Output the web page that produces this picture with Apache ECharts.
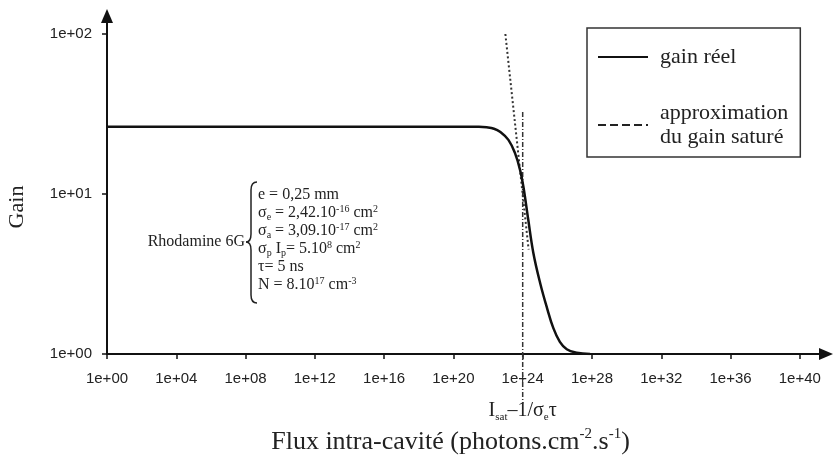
<!DOCTYPE html>
<html><head><meta charset="utf-8">
<script src="https://cdn.jsdelivr.net/npm/echarts@6/dist/echarts.min.js"></script>
<style>html,body{margin:0;padding:0;background:#fff;} #c{width:834px;height:455px;}</style>
</head><body><div id="c"></div>
<script>
// ---- data ----
const fluxReal = [1, 1e10, 1e20, 3e21, 8.3e21, 2.2e22, 4.9e22, 1.5e23, 3.6e23, 7.1e23, 1.1e24, 2.1e24, 4.1e24, 1e25, 2.5e25, 5.9e25, 1.4e26, 3.5e26, 1.3e27, 7.8e27];
const gainReal = [26.3, 26.3, 26.3, 26.3, 26.1, 25.6, 24.5, 21.8, 18.0, 14.1, 11.1, 6.9, 4.3, 2.8, 1.95, 1.45, 1.19, 1.07, 1.02, 1.0];
const fluxApprox = [1e23, 2.2e24];
const gainApprox = [100, 4.5];
const fluxSat = [1e24, 1e24];
const gainSat = [32.6, 0.49];
const xTickValues = [1, 1e4, 1e8, 1e12, 1e16, 1e20, 1e24, 1e28, 1e32, 1e36, 1e40];
const xTickLabels = ['1e+00','1e+04','1e+08','1e+12','1e+16','1e+20','1e+24','1e+28','1e+32','1e+36','1e+40'];
const yTickValues = [1, 10, 100];
const yTickLabels = ['1e+00','1e+01','1e+02'];
const seriesNames = ['gain réel', 'approximation\ndu gain saturé', 'Isat'];
const paramLines = [
  'e = 0,25 mm',
  'σ{sub|e} = 2,42.10{sup|-16} cm{sup|2}',
  'σ{sub|a} = 3,09.10{sup|-17} cm{sup|2}',
  'σ{sub|p} I{sub|p}= 5.10{sup|8} cm{sup|2}',
  'τ= 5 ns',
  'N = 8.10{sup|17} cm{sup|-3}'
];

const serif = 'Liberation Serif';
const sans = 'Liberation Sans';
function labelFor(values, labels) {
  return function (v) {
    const lv = Math.log10(v);
    const i = values.findIndex(t => Math.abs(Math.log10(t) - lv) < 1e-6);
    return i >= 0 ? labels[i] : '';
  };
}
const pairs = (xs, ys) => xs.map((x, i) => [x, ys[i]]);
const braceStyle = {stroke: '#222', lineWidth: 1.5, fill: null};

const chart = echarts.init(document.getElementById('c'));
const option = {
  animation: false,
  backgroundColor: '#fff',
  grid: {left: 107, right: 8, top: 16, bottom: 101, containLabel: false, outerBoundsMode: 'none'},
  xAxis: {
    type: 'log', logBase: 10, min: 1, max: 3.25e41, interval: 4,
    splitLine: {show: false},
    axisLine: {lineStyle: {color: '#111', width: 2}, symbol: ['none', 'triangle'], symbolSize: [12, 14]},
    axisTick: {show: true, length: 5, lineStyle: {color: '#111', width: 1.5}},
    axisLabel: {fontFamily: sans, fontSize: 15, color: '#222', margin: 17, formatter: labelFor(xTickValues, xTickLabels), showMaxLabel: false},
    name: 'Flux intra-cavité (photons.cm{sup|-2}.s{sup|-1})',
    nameLocation: 'middle', nameGap: 73,
    nameTextStyle: {fontFamily: serif, fontSize: 26, color: '#222', lineHeight: 30, padding: [0, 32, 0, 0],
      rich: {sup: {fontFamily: serif, fontSize: 15, color: '#222', verticalAlign: 'top', lineHeight: 30}}}
  },
  yAxis: {
    type: 'log', logBase: 10, min: 1, max: 129.6, interval: 1,
    splitLine: {show: false},
    axisLine: {lineStyle: {color: '#111', width: 2}, symbol: ['none', 'triangle'], symbolSize: [12, 14]},
    axisTick: {show: true, length: 5, lineStyle: {color: '#111', width: 1.5}},
    axisLabel: {fontFamily: sans, fontSize: 15, color: '#222', margin: 15, formatter: labelFor(yTickValues, yTickLabels), showMaxLabel: false},
    name: 'Gain', nameLocation: 'middle', nameRotate: 90, nameGap: 78,
    nameTextStyle: {fontFamily: serif, fontSize: 22, color: '#222', lineHeight: 24, padding: [0, 44, 0, 0]}
  },
  legend: {
    orient: 'vertical', left: 587, top: 28,
    data: [
      {name: seriesNames[0]},
      {name: seriesNames[1], lineStyle: {type: 'dashed', width: 2, color: '#222'}}
    ],
    itemWidth: 50, itemHeight: 14, itemGap: 32,
    padding: [17, 12, 8, 10],
    borderColor: '#333', borderWidth: 1.5, borderRadius: 0,
    selectedMode: false,
    itemStyle: {color: 'rgba(0,0,0,0)', borderWidth: 0, opacity: 0},
    textStyle: {fontFamily: serif, fontSize: 22, color: '#222', lineHeight: 24, padding: [0, 0, 0, 7]}
  },
  series: [
    {name: seriesNames[0], type: 'line', data: pairs(fluxReal, gainReal), symbol: 'none', smooth: 0.4,
      itemStyle: {color: '#111'}, lineStyle: {color: '#111', width: 2.5}, z: 3},
    {name: seriesNames[1], type: 'line', data: pairs(fluxApprox, gainApprox), symbol: 'none',
      itemStyle: {color: '#333'}, lineStyle: {color: '#333', width: 2, type: [2, 2.5]}, z: 2},
    {name: seriesNames[2], type: 'line', data: pairs(fluxSat, gainSat), symbol: 'none', clip: false,
      itemStyle: {color: '#333'}, lineStyle: {color: '#333', width: 1.5, type: [5, 2, 1, 2]}, z: 2}
  ],
  graphic: [
    {type: 'text', x: 245, y: 242, style: {text: 'Rhodamine 6G', fontFamily: serif, fontSize: 16, fill: '#222', align: 'right', verticalAlign: 'middle'}},
    {type: 'bezierCurve', shape: {x1: 257, y1: 182, cpx1: 251, cpy1: 182, x2: 251, y2: 190}, style: braceStyle},
    {type: 'line', shape: {x1: 251, y1: 190, x2: 251, y2: 234}, style: braceStyle},
    {type: 'bezierCurve', shape: {x1: 251, y1: 234, cpx1: 251, cpy1: 242, x2: 246, y2: 242}, style: braceStyle},
    {type: 'bezierCurve', shape: {x1: 246, y1: 242, cpx1: 251, cpy1: 242, x2: 251, y2: 250}, style: braceStyle},
    {type: 'line', shape: {x1: 251, y1: 250, x2: 251, y2: 295}, style: braceStyle},
    {type: 'bezierCurve', shape: {x1: 251, y1: 295, cpx1: 251, cpy1: 303, x2: 257, y2: 303}, style: braceStyle},
    {type: 'text', x: 258, y: 186, style: {
      text: paramLines.join('\n'), fontFamily: serif, fontSize: 16, lineHeight: 18, fill: '#222', align: 'left', verticalAlign: 'top',
      rich: {
        sub: {fontFamily: serif, fontSize: 10, fill: '#222', verticalAlign: 'bottom', lineHeight: 18},
        sup: {fontFamily: serif, fontSize: 10, fill: '#222', verticalAlign: 'top', lineHeight: 18}
      }}}
  ]
};
chart.setOption(option);
const satPx = chart.convertToPixel({gridIndex: 0}, [fluxSat[0], 1]);
chart.setOption({graphic: option.graphic.concat([
  {type: 'text', x: satPx[0], y: satPx[1] + 57, style: {
    text: 'I{sub|sat}–1/σ{sub|e}τ', fontFamily: serif, fontSize: 20, lineHeight: 24, fill: '#222', align: 'center', verticalAlign: 'middle',
    rich: {sub: {fontFamily: serif, fontSize: 11, fill: '#222', verticalAlign: 'bottom', lineHeight: 24}}}}
])});
</script>
</body></html>
